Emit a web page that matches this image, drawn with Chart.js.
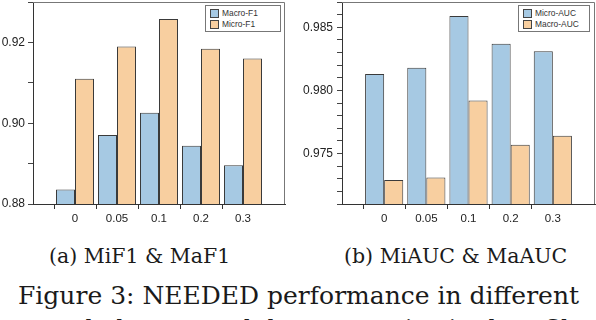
<!DOCTYPE html>
<html lang="en">
<head>
<meta charset="UTF-8">
<title>Figure 3</title>
<style>
    body { margin: 0; background: #fff; }
    #page { position: relative; width: 596px; height: 320px; overflow: hidden; background: #fff; }
    .chartBox { position: absolute; top: 0; height: 225px; }
    .legend {
        position: absolute; background: #fff; border: 1px solid #777;
        font-family: "Liberation Sans", Arial, sans-serif; font-size: 8.4px; color: #333;
        padding: 2px 4px 1px 4px; line-height: 11px;
    }
    .legend i {
        display: inline-block; width: 9px; height: 9px; border: 1px solid #444;
        vertical-align: -2px; margin-right: 3px; box-sizing: border-box;
    }
    .cap {
        position: absolute; font-family: "DejaVu Serif", serif; color: #1a1a1a; white-space: nowrap;
    }
</style>
</head>
<body>
<div id="page">
    <div class="chartBox" style="left:0; width:290px;"><canvas id="chartF1"></canvas></div>
    <div class="chartBox" style="left:299px; width:297px;"><canvas id="chartAUC"></canvas></div>

    <div class="legend" style="left:205px; top:5px; width:66px;">
        <div><i style="background:#a6c9e3"></i>Macro-F1</div>
        <div><i style="background:#f8cfa0"></i>Micro-F1</div>
    </div>
    <div class="legend" style="left:518px; top:5px; width:62px;">
        <div><i style="background:#a6c9e3"></i>Micro-AUC</div>
        <div><i style="background:#f8cfa0"></i>Macro-AUC</div>
    </div>

    <div class="cap" style="left:49px; top:244px; font-size:20.5px;">(a) MiF1 &amp; MaF1</div>
    <div class="cap" style="left:344px; top:244px; font-size:20.5px;">(b) MiAUC &amp; MaAUC</div>
    <div class="cap" style="left:18px; top:279px; font-size:25px; line-height:33px;">
        Figure 3: NEEDED performance in different<br>
        sampled rates and dropout ratios in data filtering
    </div>
</div>

<script src="https://cdn.jsdelivr.net/npm/chart.js"></script>
<script>
    // values
    const xLabels = ['0', '0.05', '0.1', '0.2', '0.3'];
    const macroF1 = [0.8836, 0.8971, 0.9026, 0.8944, 0.8896];
    const microF1 = [0.9110, 0.9190, 0.9258, 0.9184, 0.9160];
    const microAUC = [0.9813, 0.9818, 0.9859, 0.9837, 0.9831];
    const macroAUC = [0.9729, 0.9731, 0.9792, 0.9757, 0.9764];
    const f1TickLabels = ['0.88', '0.90', '0.92'];
    const aucTickLabels = ['0.975', '0.980', '0.985'];

    const blue = '#a6c9e3';
    const orange = '#f8cfa0';
    const edge = '#3a3a3a';

    // empty slot on each side of the groups
    const pad = arr => [null, ...arr, null];
    const slotLabels = ['', ...xLabels, ''];

    const framePlugin = {
        id: 'frame',
        afterDraw(chart) {
            const a = chart.chartArea, c = chart.ctx;
            c.save();
            c.strokeStyle = '#777';
            c.lineWidth = 1;
            c.beginPath();
            c.moveTo(a.left, a.top + 0.5);
            c.lineTo(a.right - 0.5, a.top + 0.5);
            c.lineTo(a.right - 0.5, a.bottom);
            c.stroke();
            c.restore();
        }
    };

    function makeChart(id, s1, s2, yMin, yMax, step, decimals, tickLabels, yWidth, padRight, labelPad) {
        const bar = (label, data, color) => ({
            label: label,
            data: pad(data),
            backgroundColor: color,
            borderColor: edge,
            borderWidth: 1,
            categoryPercentage: 0.905,
            barPercentage: 1.0
        });
        return new Chart(document.getElementById(id), {
            type: 'bar',
            data: {
                labels: slotLabels,
                datasets: [bar(s1[0], s1[1], blue), bar(s2[0], s2[1], orange)]
            },
            options: {
                responsive: true,
                maintainAspectRatio: false,
                animation: false,
                layout: { padding: { top: 2, right: padRight, left: 0, bottom: 0 } },
                plugins: { legend: { display: false }, tooltip: { enabled: false } },
                scales: {
                    x: {
                        offset: false,
                        grid: {
                            drawOnChartArea: false, drawTicks: true, tickLength: 5,
                            tickColor: ctx => (ctx.index === 0 || ctx.index === slotLabels.length - 1) ? 'rgba(0,0,0,0)' : '#333'
                        },
                        border: { color: '#333', width: 1 },
                        ticks: {
                            autoSkip: false, maxRotation: 0, padding: 3,
                            color: '#222', font: { family: 'Liberation Sans', size: 11.5 }
                        },
                        afterFit: s => { s.height = 21; s.paddingLeft = 0; s.paddingRight = 0; }
                    },
                    y: {
                        min: yMin, max: yMax,
                        grid: { drawOnChartArea: false, drawTicks: true, tickLength: 5, tickColor: '#444' },
                        border: { color: '#333', width: 1 },
                        ticks: {
                            autoSkip: false, stepSize: step, padding: labelPad,
                            color: '#222', font: { family: 'Liberation Sans', size: 12 },
                            callback: v => {
                                const t = v.toFixed(decimals);
                                return tickLabels.includes(t) ? t : '';
                            }
                        },
                        afterFit: s => { s.width = yWidth; s.paddingTop = 0; s.paddingBottom = 0; }
                    }
                }
            },
            plugins: [framePlugin]
        });
    }

    makeChart('chartF1', ['Macro-F1', macroF1], ['Micro-F1', microF1],
        0.88, 0.93, 0.01, 2, f1TickLabels, 33, 5, 3);
    makeChart('chartAUC', ['Micro-AUC', microAUC], ['Macro-AUC', macroAUC],
        0.971, 0.987, 0.001, 3, aucTickLabels, 43, 1, 4);
</script>
</body>
</html>
